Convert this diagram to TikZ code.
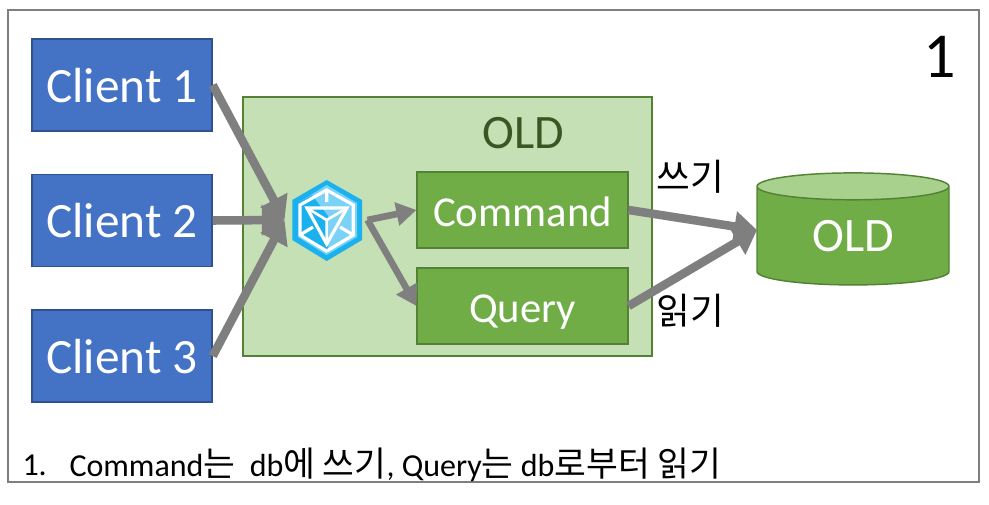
\documentclass[tikz,border=0pt]{standalone}
\usepackage{fontspec}
\setmainfont{Carlito}
\newfontfamily\cjk[Scale=1.08]{Noto Sans CJK KR}
\usetikzlibrary{arrows.meta,shapes.geometric}
\definecolor{clientblue}{RGB}{68,114,196}
\definecolor{clientedge}{RGB}{47,82,143}
\definecolor{oldgreen}{RGB}{112,173,71}
\definecolor{oldedge}{RGB}{84,130,53}
\definecolor{oldpale}{RGB}{197,224,180}
\definecolor{oldtop}{RGB}{169,209,142}
\definecolor{oldtext}{RGB}{56,87,35}
\definecolor{flowgray}{RGB}{127,127,127}
\definecolor{logoblue}{RGB}{26,177,238}
\definecolor{logopale}{RGB}{122,211,247}
\tikzset{every picture/.style={line width=0.75pt}}
\tikzset{
	clientbox/.style={draw=clientedge,line width=1.1pt,fill=clientblue,text=white,minimum width=135pt,minimum height=69pt,inner sep=0pt,text height=26pt,text depth=0pt,font=\fontsize{37}{40}\selectfont},
	oldbox/.style={draw=oldedge,line width=1.1pt,fill=oldgreen,text=white,minimum width=158pt,minimum height=57pt,inner sep=0pt,text height=24pt,text depth=0pt,font=\fontsize{32}{36}\selectfont},
	flow/.style={draw=flowgray,line width=6.4pt,-{Triangle[length=17pt,width=22pt]}},
	smallflow/.style={draw=flowgray,line width=5pt,-{Triangle[length=15pt,width=17pt]}},
	korean/.style={inner sep=0pt,font=\fontsize{25.5}{30}\selectfont\cjk},
}
\newcommand{\ko}[1]{{\cjk #1}}

\begin{document}
\begin{tikzpicture}[x=0.75pt,y=0.75pt,yscale=-1,xscale=1]
	\useasboundingbox (0,0) rectangle (989,504);

	%Shape: Frame
	\draw [draw=flowgray,line width=1.8pt,fill=white] (8,10) rectangle (979,482);
	%Shape: Old service box
	\draw [draw=oldedge,line width=1.1pt,fill=oldpale] (243,97) rectangle (652,356);

	\node [clientbox] (client1) at (122,85) {Client 1};
	\node [clientbox] (client2) at (122,220.5) {Client 2};
	\node [clientbox] (client3) at (122,356) {Client 3};
	\node [oldbox] (command) at (522.5,210) {Command};
	\node [oldbox] (query) at (522.5,306) {Query};
	\node [inner sep=0pt,text=oldtext,font=\fontsize{36}{40}\selectfont] (oldtitle) at (523,133) {OLD};
	\node [inner sep=0pt,minimum width=61.5pt,minimum height=60pt] (ingress) at (326,220) {};

	%Shape: Database
	\node [cylinder,shape border rotate=90,aspect=0.33,draw=oldedge,line width=1.1pt,cylinder uses custom fill,cylinder body fill=oldgreen,cylinder end fill=oldtop,text=white,inner sep=0pt,minimum width=144pt,minimum height=84pt,font=\fontsize{36}{40}\selectfont] (olddb) at (853,236) {OLD};
	\coordinate (dbport) at (757,230);

	%Shape: Logo
	\begin{scope}[shift={(ingress.center)}]
		\fill [logoblue] (0.7,-40) -- (36,-20) -- (36,20) -- (0.7,41) -- (-33.7,20) -- (-33.7,-20) -- cycle ;
		\fill [logopale] (0.7,-35) -- (31,-17) -- (31,17) -- (0.7,35) -- (-28,17) -- (-28,-17) -- cycle ;
		\fill [logoblue] (-28,-17) -- (-14,-25) -- (2,-4) -- (2,33) -- (-28,16) -- cycle ;
		\draw [white,line width=2.4pt] (0.7,-30) -- (27.3,-15) -- (27.3,15) -- (0.7,31) -- (-26,15) -- (-26,-15) -- cycle ;
		\draw [white,line width=2.4pt] (-19,-12) -- (21,-12) -- (0.7,24) -- cycle ;
		\draw [white,line width=2pt] (-19,-12) -- (0.7,0) -- (21,-12) (0.7,0) -- (0.7,24) ;
		\draw [white,line width=2.4pt] (0.7,-30) -- (0.7,-18) (-26,15) -- (-13,7) (27.3,15) -- (14,7) ;
	\end{scope}

	\node [korean,anchor=west] (write) at (656,177) {쓰기};
	\node [korean,anchor=west] (read) at (656,311) {읽기};
	\node [inner sep=0pt,font=\fontsize{48}{52}\selectfont] (number) at (940,57) {1};
	\node [inner sep=0pt,anchor=west,font=\fontsize{24}{28}\selectfont] (listnum) at (22,465) {1.};
	\node [inner sep=0pt,anchor=west,font=\fontsize{24}{28}\selectfont] (note) at (69,465) {Command\ko{는}\ \ db\ko{에 쓰기}, Query\ko{는} db\ko{로부터 읽기}};

	\draw [flow] (client1.east) -- (ingress.west) ;
	\draw [flow] (client2.east) -- (ingress.west) ;
	\draw [flow] (client3.east) -- (ingress.west) ;
	\draw [smallflow] (ingress.east) -- (command.west) ;
	\draw [smallflow] (ingress.east) -- (query.west) ;
	\draw [flow] (command.east) -- (dbport) ;
	\draw [flow] (query.east) -- (dbport) ;
\end{tikzpicture}
\end{document}
